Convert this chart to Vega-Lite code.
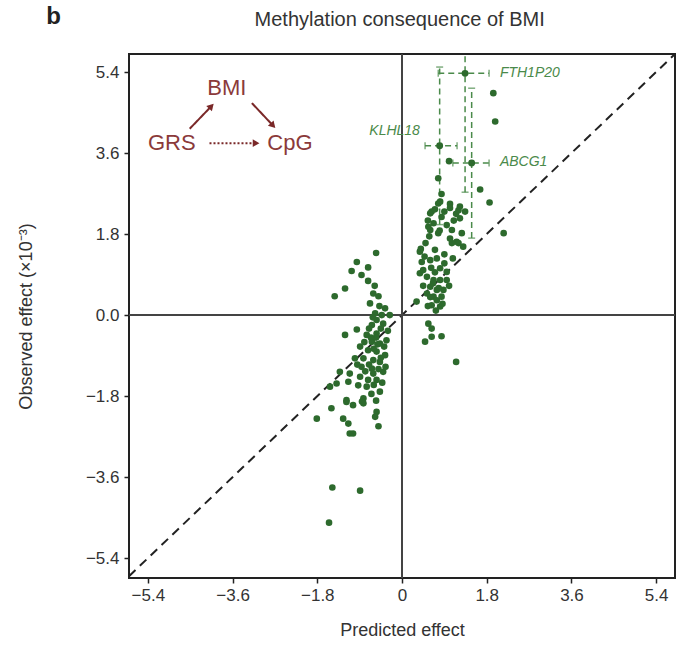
{
  "$schema": "https://vega.github.io/schema/vega-lite/v6.json",
  "width": 546,
  "height": 524,
  "autosize": {"type": "none"},
  "padding": {"left": 129, "top": 54, "right": 2, "bottom": 73},
  "background": "white",
  "config": {
    "view": {"stroke": "#222", "strokeWidth": 2},
    "font": "Liberation Sans",
    "axis": {
      "grid": false, "domain": false, "ticks": true, "tickColor": "#222", "tickWidth": 1.5, "tickSize": 5,
      "labelFontSize": 17, "labelColor": "#333", "labelFont": "Liberation Sans",
      "titleFontSize": 18, "titleColor": "#333", "titleFont": "Liberation Sans", "titleFontWeight": "normal"
    }
  },
  "datasets": {
    "pts": [
      {"x":0.84,"y":2.69},{"x":1.66,"y":2.79},{"x":1.86,"y":2.50},{"x":0.77,"y":2.48},{"x":1.02,"y":2.47},{"x":1.23,"y":2.41},{"x":1.34,"y":2.30},{"x":0.60,"y":2.26},{"x":0.84,"y":2.18},{"x":1.23,"y":2.15},{"x":0.67,"y":2.04},{"x":0.60,"y":1.89},{"x":0.77,"y":1.82},{"x":1.06,"y":1.89},{"x":1.27,"y":1.82},{"x":1.16,"y":1.63},{"x":1.06,"y":1.60},{"x":1.30,"y":1.52},{"x":2.16,"y":1.82},{"x":0.38,"y":1.41},{"x":0.42,"y":1.18},{"x":0.60,"y":1.22},{"x":0.74,"y":1.26},{"x":1.08,"y":1.26},{"x":0.81,"y":1.04},{"x":0.95,"y":0.96},{"x":0.38,"y":0.93},{"x":0.53,"y":0.85},{"x":0.67,"y":0.78},{"x":0.81,"y":0.78},{"x":0.95,"y":0.78},{"x":0.60,"y":0.63},{"x":0.74,"y":0.56},{"x":0.88,"y":0.56},{"x":0.53,"y":0.48},{"x":0.67,"y":0.41},{"x":0.84,"y":0.41},{"x":0.63,"y":0.22},{"x":0.81,"y":0.19},{"x":0.56,"y":-0.19},{"x":0.63,"y":-0.30},{"x":0.49,"y":-0.59},{"x":0.63,"y":-0.48},{"x":0.84,"y":-0.47},{"x":1.15,"y":-1.04},
      {"x":1.94,"y":4.93},{"x":1.98,"y":4.30},{"x":0.77,"y":3.04},{"x":0.81,"y":2.52},{"x":1.02,"y":2.38},{"x":1.20,"y":2.33},{"x":0.63,"y":2.30},{"x":0.56,"y":1.96},{"x":0.80,"y":1.88},{"x":1.02,"y":1.70},{"x":1.20,"y":1.60},{"x":0.40,"y":1.47},{"x":1.00,"y":3.42},
      {"x":0.66,"y":0.71},{"x":0.78,"y":0.60},{"x":0.60,"y":0.40},{"x":0.74,"y":0.33},{"x":0.86,"y":0.25},{"x":0.31,"y":0.30},{"x":0.45,"y":1.00},{"x":0.50,"y":1.60},{"x":0.70,"y":1.45},{"x":0.90,"y":1.35},{"x":0.55,"y":2.10},{"x":0.70,"y":2.35},{"x":1.15,"y":2.25},{"x":0.95,"y":2.00},{"x":0.45,"y":0.65},{"x":0.70,"y":0.95},{"x":0.90,"y":1.15},{"x":1.00,"y":0.65},{"x":0.58,"y":1.75},{"x":0.48,"y":1.30},{"x":0.62,"y":1.05},{"x":0.55,"y":0.20},{"x":0.72,"y":0.10},{"x":0.90,"y":2.30},{"x":1.10,"y":2.10},
      {"x":-0.55,"y":1.38},{"x":-0.96,"y":1.18},{"x":-1.07,"y":0.98},{"x":-0.72,"y":1.06},{"x":-0.86,"y":0.89},{"x":-0.72,"y":0.76},{"x":-1.21,"y":0.59},{"x":-1.43,"y":0.42},{"x":-0.61,"y":0.48},{"x":-0.50,"y":0.42},{"x":-0.68,"y":0.26},{"x":-0.36,"y":0.15},{"x":-0.57,"y":0.04},{"x":-0.43,"y":0.0},{"x":-0.26,"y":0.0},{"x":-0.54,"y":-0.11},{"x":-0.40,"y":-0.19},{"x":-0.64,"y":-0.22},{"x":-0.96,"y":-0.32},{"x":-1.21,"y":-0.44},{"x":-0.75,"y":-0.44},{"x":-0.54,"y":-0.41},{"x":-0.33,"y":-0.56},{"x":-0.64,"y":-0.59},{"x":-0.47,"y":-0.63},{"x":-0.89,"y":-0.70},{"x":-0.72,"y":-0.78},{"x":-0.54,"y":-0.81},{"x":-0.36,"y":-0.89},{"x":-1.00,"y":-0.96},{"x":-0.82,"y":-0.96},{"x":-0.61,"y":-1.00},{"x":-0.47,"y":-1.04},{"x":-0.86,"y":-1.15},{"x":-0.64,"y":-1.19},{"x":-1.32,"y":-1.26},{"x":-1.11,"y":-1.30},{"x":-0.61,"y":-1.30},{"x":-0.40,"y":-1.26},{"x":-0.89,"y":-1.37},{"x":-0.72,"y":-1.44},{"x":-0.54,"y":-1.44},{"x":-1.39,"y":-1.52},{"x":-1.53,"y":-1.59},{"x":-1.14,"y":-1.48},{"x":-0.93,"y":-1.56},{"x":-0.75,"y":-1.59},{"x":-0.47,"y":-1.70},{"x":-1.18,"y":-1.89},{"x":-1.04,"y":-2.00},{"x":-0.82,"y":-1.96},{"x":-0.82,"y":-1.85},{"x":-1.50,"y":-2.07},{"x":-0.54,"y":-2.15},{"x":-0.57,"y":-2.26},{"x":-1.81,"y":-2.30},{"x":-1.25,"y":-2.30},{"x":-1.14,"y":-2.41},{"x":-0.50,"y":-2.47},{"x":-1.11,"y":-2.63},{"x":-1.04,"y":-2.63},{"x":-0.85,"y":-1.92},{"x":-1.18,"y":-1.93},
      {"x":-1.48,"y":-3.83},{"x":-0.89,"y":-3.90},{"x":-1.55,"y":-4.61},
      {"x":-0.45,"y":-0.30},{"x":-0.55,"y":-0.50},{"x":-0.38,"y":-0.70},{"x":-0.60,"y":-0.75},{"x":-0.50,"y":-1.20},{"x":-0.70,"y":-1.10},{"x":-0.42,"y":-1.50},{"x":-0.65,"y":-1.75},{"x":-0.55,"y":-1.90},{"x":-0.70,"y":-0.30},{"x":-0.30,"y":-0.35},{"x":-0.48,"y":0.20},{"x":-0.62,"y":-0.05},{"x":-0.80,"y":-0.60},{"x":-0.95,"y":-1.10},{"x":-0.60,"y":-1.55},{"x":-0.45,"y":-0.95},{"x":-0.35,"y":-1.15},{"x":-0.58,"y":0.65},{"x":-0.66,"y":-0.50},{"x":-0.52,"y":-0.65},{"x":-0.78,"y":-1.25}
    ],
    "err": [
      {"gene":"FTH1P20","x":1.34,"y":5.37,"xlo":0.77,"xhi":1.85,"ylo":2.73,"yhi":8.0},
      {"gene":"KLHL18","x":0.80,"y":3.76,"xlo":0.49,"xhi":1.17,"ylo":2.01,"yhi":5.51},
      {"gene":"ABCG1","x":1.48,"y":3.38,"xlo":1.08,"xhi":1.85,"ylo":1.71,"yhi":5.04}
    ],
    "genes": [
      {"label":"FTH1P20","x":2.08,"y":5.37,"side":"left"},
      {"label":"KLHL18","x":0.38,"y":4.09,"side":"right"},
      {"label":"ABCG1","x":2.08,"y":3.40,"side":"left"}
    ],
    "diagText": [
      {"t":"BMI","x":-3.72,"y":5.04},
      {"t":"GRS","x":-4.89,"y":3.82},
      {"t":"CpG","x":-2.38,"y":3.82}
    ],
    "arrows": [
      {"kind":"solid","x":-4.51,"y":4.14,"x2":-4.05,"y2":4.64,"ang":-47},
      {"kind":"solid","x":-3.19,"y":4.71,"x2":-2.74,"y2":4.21,"ang":47},
      {"kind":"dotted","x":-4.09,"y":3.82,"x2":-3.10,"y2":3.82,"ang":0}
    ],
    "heads": [
      {"t":"b","x":-7.4,"y":6.62,"kind":"panel"},
      {"t":"Methylation consequence of BMI","x":-0.05,"y":6.56,"kind":"title"}
    ],
    "diag": [{"x":-5.8,"y":-5.8,"x2":5.8,"y2":5.8}],
    "zero": [{"v":0}]
  },
  "layer": [
    {
      "data": {"name": "diag"},
      "mark": {"type": "rule", "color": "#222", "strokeWidth": 2, "strokeDash": [9, 6]},
      "encoding": {
        "x": {"field": "x", "type": "quantitative", "scale": {"domain": [-5.8, 5.8], "nice": false, "zero": false},
          "axis": {"values": [-5.4, -3.6, -1.8, 0, 1.8, 3.6, 5.4], "labelExpr": "datum.value == 0 ? '0' : format(datum.value, '.1f')", "title": "Predicted effect", "labelPadding": 4, "titlePadding": 18}},
        "y": {"field": "y", "type": "quantitative", "scale": {"domain": [-5.84, 5.8], "nice": false, "zero": false},
          "axis": {"values": [-5.4, -3.6, -1.8, 0, 1.8, 3.6, 5.4], "format": ".1f", "title": "Observed effect (×10⁻³)", "labelPadding": 5, "titlePadding": 50}},
        "x2": {"field": "x2"},
        "y2": {"field": "y2"}
      }
    },
    {
      "data": {"name": "zero"},
      "mark": {"type": "rule", "color": "#444", "strokeWidth": 2},
      "encoding": {"x": {"field": "v", "type": "quantitative"}}
    },
    {
      "data": {"name": "zero"},
      "mark": {"type": "rule", "color": "#444", "strokeWidth": 2},
      "encoding": {"y": {"field": "v", "type": "quantitative"}}
    },
    {
      "data": {"name": "err"},
      "mark": {"type": "rule", "color": "#4a8a4a", "strokeWidth": 1.5, "strokeDash": [6, 4], "clip": true},
      "encoding": {"x": {"field": "x", "type": "quantitative"}, "y": {"field": "ylo", "type": "quantitative"}, "y2": {"field": "yhi"}}
    },
    {
      "data": {"name": "err"},
      "mark": {"type": "rule", "color": "#4a8a4a", "strokeWidth": 1.5, "strokeDash": [6, 4], "clip": true},
      "encoding": {"y": {"field": "y", "type": "quantitative"}, "x": {"field": "xlo", "type": "quantitative"}, "x2": {"field": "xhi"}}
    },
    {
      "data": {"name": "err"},
      "transform": [{"fold": ["ylo", "yhi"], "as": ["k", "yv"]}],
      "mark": {"type": "tick", "orient": "horizontal", "color": "#4a8a4a", "size": 7, "thickness": 1.5, "clip": true},
      "encoding": {"x": {"field": "x", "type": "quantitative"}, "y": {"field": "yv", "type": "quantitative"}}
    },
    {
      "data": {"name": "err"},
      "transform": [{"fold": ["xlo", "xhi"], "as": ["k", "xv"]}],
      "mark": {"type": "tick", "orient": "vertical", "color": "#4a8a4a", "size": 7, "thickness": 1.5, "clip": true},
      "encoding": {"x": {"field": "xv", "type": "quantitative"}, "y": {"field": "y", "type": "quantitative"}}
    },
    {
      "data": {"name": "pts"},
      "mark": {"type": "circle", "color": "#2d6a2d", "size": 44, "opacity": 1},
      "encoding": {"x": {"field": "x", "type": "quantitative"}, "y": {"field": "y", "type": "quantitative"}}
    },
    {
      "data": {"name": "err"},
      "mark": {"type": "circle", "color": "#2d6a2d", "size": 48, "opacity": 1},
      "encoding": {"x": {"field": "x", "type": "quantitative"}, "y": {"field": "y", "type": "quantitative"}}
    },
    {
      "data": {"name": "genes"},
      "transform": [{"filter": "datum.side == 'left'"}],
      "mark": {"type": "text", "color": "#4a8a4a", "fontSize": 14, "fontStyle": "italic", "font": "Liberation Sans", "baseline": "middle", "align": "left"},
      "encoding": {"x": {"field": "x", "type": "quantitative"}, "y": {"field": "y", "type": "quantitative"}, "text": {"field": "label"}}
    },
    {
      "data": {"name": "genes"},
      "transform": [{"filter": "datum.side == 'right'"}],
      "mark": {"type": "text", "color": "#4a8a4a", "fontSize": 14, "fontStyle": "italic", "font": "Liberation Sans", "baseline": "middle", "align": "right"},
      "encoding": {"x": {"field": "x", "type": "quantitative"}, "y": {"field": "y", "type": "quantitative"}, "text": {"field": "label"}}
    },
    {
      "data": {"name": "diagText"},
      "mark": {"type": "text", "color": "#8b3a3a", "fontSize": 22, "font": "Liberation Sans", "baseline": "middle", "align": "center"},
      "encoding": {"x": {"field": "x", "type": "quantitative"}, "y": {"field": "y", "type": "quantitative"}, "text": {"field": "t"}}
    },
    {
      "data": {"name": "arrows"},
      "mark": {"type": "rule", "color": "#7a2828", "strokeWidth": 2},
      "encoding": {"x": {"field": "x", "type": "quantitative"}, "y": {"field": "y", "type": "quantitative"}, "x2": {"field": "x2"}, "y2": {"field": "y2"},
        "strokeDash": {"field": "kind", "type": "nominal", "scale": {"domain": ["solid", "dotted"], "range": [[1, 0], [2, 2]]}, "legend": null}}
    },
    {
      "data": {"name": "arrows"},
      "mark": {"type": "point", "shape": "triangle-right", "filled": true, "color": "#7a2828", "size": 60, "opacity": 1},
      "encoding": {"x": {"field": "x2", "type": "quantitative"}, "y": {"field": "y2", "type": "quantitative"},
        "angle": {"field": "ang", "type": "quantitative", "scale": null}}
    },
    {
      "data": {"name": "heads"},
      "transform": [{"filter": "datum.kind == 'panel'"}],
      "mark": {"type": "text", "fontSize": 24, "fontWeight": "bold", "font": "Liberation Sans", "color": "#222", "baseline": "middle", "align": "center", "clip": false},
      "encoding": {"x": {"field": "x", "type": "quantitative"}, "y": {"field": "y", "type": "quantitative"}, "text": {"field": "t"}}
    },
    {
      "data": {"name": "heads"},
      "transform": [{"filter": "datum.kind == 'title'"}],
      "mark": {"type": "text", "fontSize": 20, "font": "Liberation Sans", "color": "#333", "baseline": "middle", "align": "center", "clip": false},
      "encoding": {"x": {"field": "x", "type": "quantitative"}, "y": {"field": "y", "type": "quantitative"}, "text": {"field": "t"}}
    }
  ]
}
